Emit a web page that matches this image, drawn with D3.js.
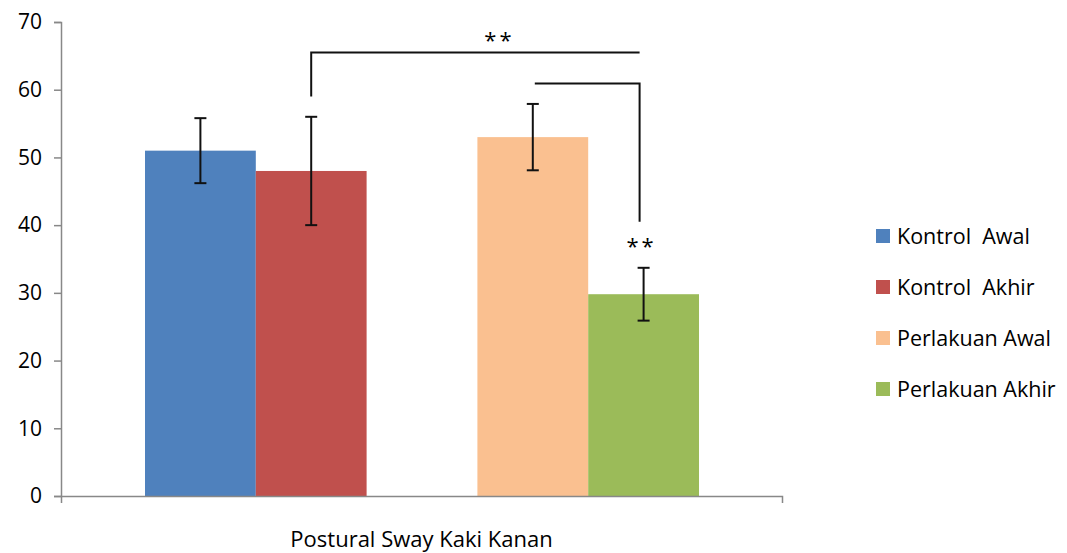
<!DOCTYPE html>
<html><head><meta charset="utf-8">
<script src="https://cdn.jsdelivr.net/npm/d3@7"></script>
<style>body{margin:0;background:#fff}svg{display:block}text{font-family:"Open Sans","Noto Sans",sans-serif;fill:#000}</style>
</head><body><svg id="c" width="1067" height="553"></svg>
<script>
const category = "Postural Sway Kaki Kanan";
const series = ["Kontrol  Awal", "Kontrol  Akhir", "Perlakuan Awal", "Perlakuan Akhir"];
const slots = ["Kontrol  Awal", "Kontrol  Akhir", "gap", "Perlakuan Awal", "Perlakuan Akhir"];
const values = [51, 48, 53, 29.8];
const errors = [4.8, 8, 4.9, 3.9];
const colors = ["#4F81BD", "#C0504D", "#FAC090", "#9BBB59"];
const yTicks = [0, 10, 20, 30, 40, 50, 60, 70];
const brackets = [
  {from: 1, to: 3, level: 65.5, start: 59, end: null, label: "**"},
  {from: 2, to: 3, level: 60.9, start: null, end: 40.5, label: "**"}
];

const svg = d3.select("#c");
const x0 = 61, x1 = 782, yTop = 22, yBot = 496;
const y = d3.scaleLinear().domain([0, 70]).range([yBot, yTop]);
const xCat = d3.scaleBand().domain([category]).range([x0, x1]);
const xSlot = d3.scaleBand().domain(slots).range([xCat(category) + 84, xCat(category) + xCat.bandwidth() - 83]);

// axes
const gy = svg.append("g").attr("transform", `translate(${x0},0)`)
  .call(d3.axisLeft(y).tickValues(yTicks).tickSize(7).tickPadding(12).tickFormat(d3.format("d")));
gy.select(".domain").attr("stroke", "#888").attr("stroke-width", 1.5);
gy.selectAll(".tick line").attr("stroke", "#888").attr("stroke-width", 1.5);
gy.selectAll(".tick text").attr("font-size", 21).style("font-family", '"Open Sans",sans-serif').attr("fill", "#000");

// bars
series.forEach((s, i) => {
  svg.append("rect").attr("x", xSlot(s)).attr("width", xSlot.bandwidth())
    .attr("y", y(values[i])).attr("height", y(0) - y(values[i])).attr("fill", colors[i]);
});

const gx = svg.append("g").attr("transform", `translate(0,${yBot})`)
  .call(d3.axisBottom(xCat).tickValues([]).tickSizeOuter(7));
gx.select(".domain").attr("stroke", "#888").attr("stroke-width", 1.5);

svg.append("text").attr("x", xCat(category) + xCat.bandwidth() / 2).attr("y", 547)
  .attr("text-anchor", "middle").attr("font-size", 22).text(category);

// error bars
series.forEach((s, i) => {
  const cx = xSlot(s) + xSlot.bandwidth() / 2;
  const g = svg.append("g").attr("stroke", "#111").attr("stroke-width", 2);
  g.append("line").attr("x1", cx).attr("x2", cx).attr("y1", y(values[i] + errors[i])).attr("y2", y(values[i] - errors[i]));
  [values[i] + errors[i], values[i] - errors[i]].forEach(v => {
    g.append("line").attr("x1", cx - 6).attr("x2", cx + 6).attr("y1", y(v)).attr("y2", y(v));
  });
});

// brackets
const cxOf = i => xSlot(series[i]) + xSlot.bandwidth() / 2;
{
  const b = brackets[0];
  const xa = cxOf(b.from), xb = cxOf(b.to) - 4;
  svg.append("path").attr("d", `M${xa},${y(b.start)}V${y(b.level)}H${xb}`)
    .attr("fill", "none").attr("stroke", "#111").attr("stroke-width", 2);
  svg.append("text").attr("x", (xa + xb) / 2 + 24).attr("y", y(b.level) - 4)
    .attr("text-anchor", "middle").attr("font-size", 22).attr("letter-spacing", 3).text(b.label);
}
{
  const b = brackets[1];
  const xa = cxOf(b.from) + 2, xb = cxOf(3) - 4;
  svg.append("path").attr("d", `M${xa},${y(b.level)}H${xb}V${y(b.end)}`)
    .attr("fill", "none").attr("stroke", "#111").attr("stroke-width", 2);
  svg.append("text").attr("x", xb + 2).attr("y", y(b.end) + 32)
    .attr("text-anchor", "middle").attr("font-size", 22).attr("letter-spacing", 3).text(b.label);
}

// legend
const legY = [236, 287, 338, 389];
series.forEach((s, i) => {
  svg.append("rect").attr("x", 876).attr("y", legY[i] - 7).attr("width", 14).attr("height", 14).attr("fill", colors[i]);
  svg.append("text").attr("x", 897).attr("y", legY[i] + 8).attr("font-size", 21.5).attr("xml:space", "preserve").style("white-space", "pre").text(s);
});
</script></body></html>
